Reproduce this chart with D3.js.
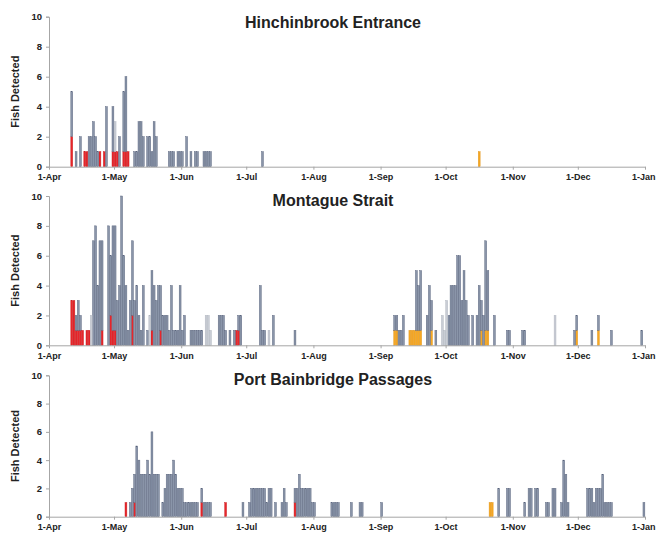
<!DOCTYPE html>
<html>
<head>
<meta charset="utf-8">
<script src="https://cdn.jsdelivr.net/npm/d3@7"></script>
<style>
  body { margin: 0; background: #fff; }
  text { font-family: "Liberation Sans", Arial, sans-serif; }
</style>
</head>
<body>
<svg id="chart" width="656" height="536"></svg>
<script>
// ---- axis definitions ----
const monthTicks = ["2013-04-01","2013-05-01","2013-06-01","2013-07-01","2013-08-01",
                    "2013-09-01","2013-10-01","2013-11-01","2013-12-01","2014-01-01"];
const monthLabels = ["1-Apr","1-May","1-Jun","1-Jul","1-Aug","1-Sep","1-Oct","1-Nov","1-Dec","1-Jan"];
const countTicks = [0, 2, 4, 6, 8, 10];
const panelTitles = ["Hinchinbrook Entrance", "Montague Strait", "Port Bainbridge Passages"];

// ---- daily detections, [month-day, fish] ----
// Hinchinbrook Entrance
const hinchinbrookRed = [["04-11",2],["04-17",1],["04-18",1],["04-24",1],["04-26",1],["04-30",1],
  ["05-01",1],["05-02",1],["05-05",1],["05-06",1],["05-07",1]];
const hinchinbrookOrange = [["10-16",1]];
const hinchinbrookGray = [["04-11",3],["04-13",1],["04-15",2],["04-19",2],["04-20",2],["04-21",3],
  ["04-22",2],["04-23",1],["04-27",4],["04-30",3],["05-03",2],["05-05",4],["05-06",5],["05-10",1],
  ["05-11",1],["05-12",3],["05-13",3],["05-14",2],["05-16",2],["05-17",2],["05-18",1],["05-19",3],
  ["05-20",2],["05-26",1],["05-27",1],["05-28",1],["05-30",1],["05-31",1],["06-01",1],["06-03",2],
  ["06-05",1],["06-07",1],["06-08",1],["06-11",1],["06-12",1],["06-13",1],["06-14",1],["07-08",1]];
const hinchinbrookLight = [["05-01",2]];

// Montague Strait
const montagueRed = [["04-11",3],["04-12",3],["04-13",1],["04-14",1],["04-15",1],["04-16",1],
  ["04-18",1],["04-19",1],["04-25",1],["04-29",2],["04-30",1],["05-01",1],["05-09",2],["05-18",1],
  ["05-22",1],["06-26",1],["06-27",1]];
const montagueOrange = [["09-07",1],["09-08",1],["09-14",1],["09-15",1],["09-16",1],["09-17",1],
  ["09-18",1],["09-19",1],["09-24",1],["10-17",1],["10-19",1],["10-20",1],["11-30",1],["12-10",1]];
const montagueGray = [["04-13",1],["04-14",2],["04-15",1],["04-21",7],["04-22",8],["04-23",4],
  ["04-24",7],["04-25",6],["04-28",8],["04-29",4],["04-30",7],["05-01",7],["05-02",3],["05-03",4],
  ["05-04",10],["05-05",6],["05-06",4],["05-07",1],["05-08",3],["05-09",5],["05-10",3],["05-11",4],
  ["05-12",2],["05-13",1],["05-14",4],["05-16",1],["05-18",4],["05-19",4],["05-20",3],["05-21",4],
  ["05-22",3],["05-23",2],["05-24",2],["05-25",2],["05-26",1],["05-27",4],["05-28",1],["05-29",1],
  ["05-30",1],["05-31",4],["06-01",1],["06-02",2],["06-05",1],["06-06",1],["06-07",1],["06-08",1],
  ["06-09",1],["06-10",1],["06-18",2],["06-19",2],["06-20",2],["06-21",1],["06-23",1],["06-25",1],
  ["06-27",1],["06-28",2],["07-07",4],["07-08",1],["07-09",1],["07-13",2],["07-23",1],
  ["09-07",1],["09-08",1],["09-09",1],["09-10",1],["09-11",2],["09-17",4],["09-18",3],["09-19",4],
  ["09-22",2],["09-23",4],["09-24",2],["09-26",1],["10-02",2],["10-03",4],["10-04",4],["10-05",4],
  ["10-06",6],["10-07",6],["10-08",3],["10-09",5],["10-10",3],["10-11",2],["10-13",2],["10-15",2],
  ["10-16",4],["10-17",2],["10-18",2],["10-19",6],["10-20",4],["10-23",2],["10-29",1],["10-30",1],
  ["11-05",1],["11-06",1],["11-29",1],["11-30",1],["12-07",1],["12-10",1],["12-16",1],["12-30",1]];
const montagueLight = [["04-20",2],["05-17",2],["06-12",2],["06-13",2],["06-14",1],["07-11",1],
  ["09-29",2],["09-30",1],["10-01",3],["11-20",2]];

// Port Bainbridge Passages
const bainbridgeRed = [["05-06",1],["05-10",1],["06-10",1],["06-21",1],["07-23",1]];
const bainbridgeOrange = [["10-21",1],["10-22",1]];
const bainbridgeGray = [["05-08",1],["05-09",2],["05-10",2],["05-11",5],["05-12",4],["05-13",3],
  ["05-14",3],["05-15",3],["05-16",4],["05-17",3],["05-18",6],["05-19",3],["05-20",3],["05-21",3],
  ["05-23",1],["05-24",2],["05-25",3],["05-26",3],["05-27",3],["05-28",4],["05-29",3],["05-30",2],
  ["05-31",2],["06-01",2],["06-02",1],["06-03",1],["06-04",1],["06-05",1],["06-06",1],["06-07",1],
  ["06-08",1],["06-10",1],["06-11",1],["06-12",1],["06-13",1],["06-14",1],["06-29",1],["07-02",1],
  ["07-03",2],["07-04",2],["07-05",2],["07-06",2],["07-07",2],["07-08",2],["07-09",2],["07-10",1],
  ["07-11",2],["07-12",2],["07-14",1],["07-17",1],["07-18",2],["07-19",1],["07-23",1],["07-24",2],
  ["07-25",3],["07-26",2],["07-27",2],["07-28",2],["07-29",2],["07-30",2],["07-31",1],["08-01",1],
  ["08-09",1],["08-10",1],["08-11",1],["08-12",1],["08-18",1],["08-22",1],["08-23",1],["09-01",1],
  ["10-25",2],["10-29",2],["10-30",2],["11-06",1],["11-08",2],["11-09",2],["11-11",2],["11-12",2],
  ["11-16",1],["11-17",1],["11-19",2],["11-20",2],["11-23",1],["11-24",4],["11-25",3],["11-26",1],
  ["12-05",2],["12-06",2],["12-07",2],["12-08",1],["12-09",2],["12-10",2],["12-11",2],["12-12",3],
  ["12-13",1],["12-14",1],["12-15",1],["12-16",1],["12-31",1]];
const bainbridgeLight = [];

// ---- drawing ----
const parseDate = d3.timeParse("%Y-%m-%d");
const svg = d3.select("#chart");

const colours = { red: "#e8262b", orange: "#f7a823", gray: "#8a95a9", light: "#c9cdd5" };
const strokes = { red: "#c81e22", orange: "#e0941a", gray: "#56617a", light: "#aeb3bd" };
const stackOrder = ["red", "orange", "gray", "light"];

const x = d3.scaleTime()
  .domain([parseDate(monthTicks[0]), parseDate(monthTicks[monthTicks.length - 1])])
  .range([49, 645]);

const panels = [
  { title: panelTitles[0], top: 16.7, base: 166.7, titleY: 28,
    series: { red: hinchinbrookRed, orange: hinchinbrookOrange, gray: hinchinbrookGray, light: hinchinbrookLight } },
  { title: panelTitles[1], top: 196, base: 345.3, titleY: 206,
    series: { red: montagueRed, orange: montagueOrange, gray: montagueGray, light: montagueLight } },
  { title: panelTitles[2], top: 375.3, base: 516.7, titleY: 385,
    series: { red: bainbridgeRed, orange: bainbridgeOrange, gray: bainbridgeGray, light: bainbridgeLight } }
];

panels.forEach(p => {
  const y = d3.scaleLinear().domain([0, 10]).range([p.base, p.top]);
  const g = svg.append("g");

  // stack each day's counts: tagged groups at the bottom, others above
  const byDay = new Map();
  stackOrder.forEach(key => {
    p.series[key].forEach(([md, n]) => {
      if (!byDay.has(md)) byDay.set(md, {});
      byDay.get(md)[key] = n;
    });
  });
  const segments = [];
  byDay.forEach((counts, md) => {
    const day = parseDate("2013-" + md);
    let acc = 0;
    stackOrder.forEach(key => {
      const n = counts[key] || 0;
      if (n > 0) { segments.push({ day, key, y0: acc, y1: acc + n }); acc += n; }
    });
  });

  const barW = x(parseDate("2013-04-02")) - x(parseDate("2013-04-01"));
  g.selectAll("rect.bar").data(segments).join("rect")
    .attr("class", "bar")
    .attr("x", d => x(d.day) + 0.15)
    .attr("width", barW - 0.3)
    .attr("y", d => y(d.y1))
    .attr("height", d => y(d.y0) - y(d.y1))
    .attr("fill", d => colours[d.key])
    .attr("stroke", d => strokes[d.key])
    .attr("stroke-width", 0.45);

  // y axis
  const yAxis = d3.axisLeft(y).tickValues(countTicks).tickSize(3).tickPadding(4);
  const ya = g.append("g").attr("transform", "translate(49,0)").call(yAxis);
  ya.select(".domain").attr("stroke", "#a6a6a6");
  ya.selectAll(".tick line").attr("stroke", "#a6a6a6");
  ya.selectAll(".tick text").attr("font-size", 9.5).attr("font-weight", "bold").attr("fill", "#222");

  // x axis
  const xAxis = d3.axisBottom(x)
    .tickValues(monthTicks.map(parseDate))
    .tickFormat((d, i) => monthLabels[i])
    .tickSize(3).tickSizeOuter(0).tickPadding(4);
  const xa = g.append("g").attr("transform", `translate(0,${p.base})`).call(xAxis);
  xa.select(".domain").attr("stroke", "#a6a6a6");
  xa.selectAll(".tick line").attr("stroke", "#a6a6a6");
  xa.selectAll(".tick text").attr("font-size", 9).attr("font-weight", "bold").attr("fill", "#222");
  // keep the last month label inside the canvas
  xa.selectAll(".tick text").filter((d, i) => i === monthTicks.length - 1)
    .attr("text-anchor", "end").attr("dx", "10px");

  // titles
  g.append("text")
    .attr("x", 333).attr("y", p.titleY)
    .attr("text-anchor", "middle")
    .attr("font-size", 16).attr("font-weight", "bold").attr("fill", "#222")
    .text(p.title);

  g.append("text")
    .attr("transform", `translate(19,${(p.top + p.base) / 2}) rotate(-90)`)
    .attr("text-anchor", "middle")
    .attr("font-size", 11).attr("font-weight", "bold").attr("fill", "#222")
    .text("Fish Detected");
});
</script>
</body>
</html>
